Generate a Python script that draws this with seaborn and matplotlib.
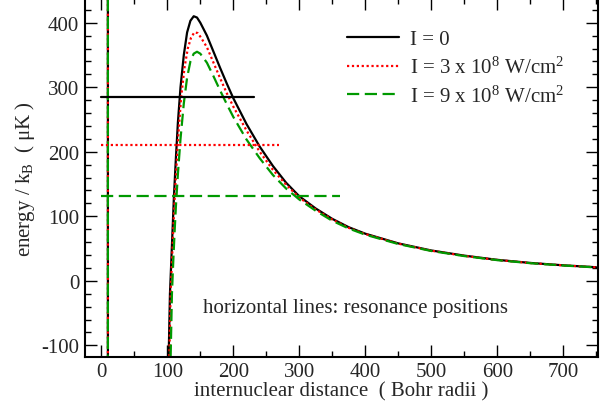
import numpy as np
import pandas as pd
import matplotlib
matplotlib.use("Agg")
import matplotlib.pyplot as plt
from matplotlib.ticker import MultipleLocator
import seaborn as sns
sns.set_style("ticks")
plt.rcParams['font.family'] = ['Liberation Serif', 'DejaVu Serif']
plt.rcParams['mathtext.fontset'] = 'custom'
plt.rcParams['mathtext.rm'] = 'Liberation Serif'
plt.rcParams['mathtext.it'] = 'Liberation Serif:italic'
plt.rcParams['axes.unicode_minus'] = False

# potential curves (x in Bohr radii, y in microkelvin); wall at x=10, deep well off-scale
x_black = [9.9, 10, 101, 102, 104, 106, 108, 110, 113, 116, 120, 125, 130, 135, 140, 145, 150, 160, 170,
           180, 190, 200, 220, 240, 260, 280, 300, 325, 350, 375, 400, 450, 500, 550, 600, 650, 700, 750]
y_black = [5000, -5000, -1000, -120, -20, 30, 80, 130, 190, 245, 300, 350, 385, 403, 410, 408, 400, 380, 355,
           330, 306, 283, 243, 208, 178, 152, 131, 112, 96, 83, 73, 58, 47, 39, 32.5, 27.7, 24, 21]

x_red = [9.9, 10, 102, 103, 105, 107, 109, 111, 114, 117, 121, 126, 131, 136, 141, 146, 151, 160, 170,
         180, 190, 200, 220, 240, 260, 280, 300, 325, 350, 375, 400, 450, 500, 550, 600, 650, 700, 750]
y_red = [5000, -5000, -1000, -120, -20, 30, 80, 125, 180, 230, 285, 330, 360, 377, 385, 384, 377, 362, 338,
         314, 291, 270, 233, 200, 172, 149, 129, 110.5, 95, 82, 72.5, 57.6, 46.7, 38.6, 32.3, 27.5, 23.9, 20.9]

x_green = [9.9, 10, 104, 105, 107, 109, 111, 113, 116, 120, 125, 130, 135, 140, 145, 150, 160, 170,
           180, 190, 200, 220, 240, 260, 280, 300, 325, 350, 375, 400, 450, 500, 550, 600, 650, 700, 750]
y_green = [5000, -5000, -1000, -120, -20, 30, 75, 115, 165, 220, 275, 315, 340, 352, 355, 352, 338, 317,
           295, 274, 254, 219, 190, 164, 143, 126, 108.5, 93, 81, 71.5, 57, 46.2, 38.3, 32, 27.3, 23.7, 20.7]

# resonance positions: energy and extent of horizontal line
res_energy = [285, 211, 131]
res_xmax = [231, 270, 362]

labels = ['I = 0',
          'I = 3 x 10$^{\\mathrm{8}}$ W/cm$^{\\mathrm{2}}$',
          'I = 9 x 10$^{\\mathrm{8}}$ W/cm$^{\\mathrm{2}}$']
colors = ['black', 'red', '#009900']
dash_styles = [(None, None), (1, 1.2), (5.5, 2.5)]
fs = 15

fig = plt.figure(figsize=(6.06, 4.10), dpi=100)
ax = fig.add_axes([0.140, 0.127, 0.846, 0.875])

curves = [(x_black, y_black), (x_red, y_red), (x_green, y_green)]
for i, (xs, ys) in enumerate(curves):
    df = pd.DataFrame({'x': xs, 'y': ys})
    sns.lineplot(data=df, x='x', y='y', sort=False, estimator=None, color=colors[i],
                 lw=1.6, ax=ax, label=labels[i])
    if dash_styles[i][0] is not None:
        ax.lines[-1].set_dashes(dash_styles[i])
        ax.lines[-1].set_dash_capstyle('butt')

for i in range(3):
    ln, = ax.plot([0, res_xmax[i]], [res_energy[i], res_energy[i]], color=colors[i], lw=1.6)
    if dash_styles[i][0] is not None:
        ln.set_dashes(dash_styles[i])

ax.set_xlim(-25, 752)
ax.set_ylim(-118, 438)
ax.xaxis.set_major_locator(MultipleLocator(100))
ax.xaxis.set_minor_locator(MultipleLocator(50))
ax.yaxis.set_major_locator(MultipleLocator(100))
ax.yaxis.set_minor_locator(MultipleLocator(20))
ax.tick_params(which='both', direction='in', top=True, right=True, labelsize=fs, pad=4, width=1, color='black')
ax.tick_params(which='major', length=8.5)
ax.tick_params(which='minor', length=4)
for s in ax.spines.values():
    s.set_linewidth(1.5)
    s.set_color('black')

ax.set_xlabel('internuclear distance  ( Bohr radii )', fontsize=fs, labelpad=0)
ax.set_ylabel('energy / k$_{\\mathrm{B}}$  ( \u03bcK )', fontsize=fs, labelpad=3)
ax.text(385, -42, 'horizontal lines: resonance positions', fontsize=fs, ha='center', va='center')

ax.legend(loc='upper right', frameon=False, fontsize=fs, handlelength=2.5, handletextpad=0.5,
          bbox_to_anchor=(0.971, 0.964), labelspacing=0.35)

plt.savefig('out.png', dpi=100)
